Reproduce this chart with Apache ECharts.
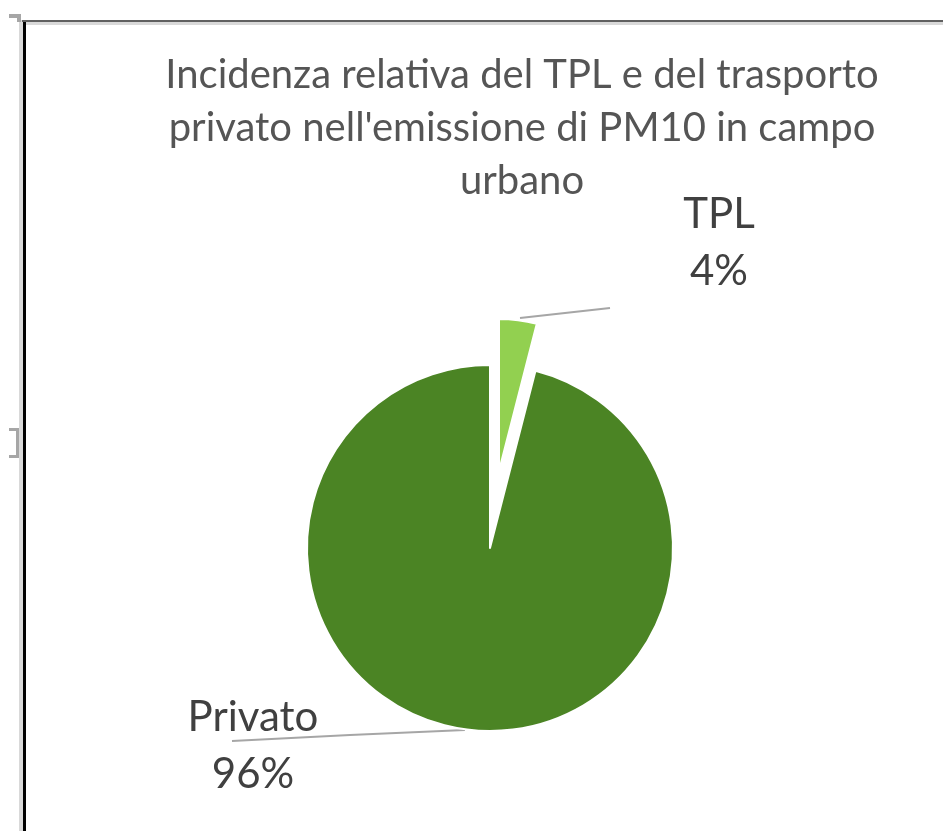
<!DOCTYPE html>
<html>
<head>
	<meta charset="utf-8">
	<title>PM10</title>
	<script src="https://cdn.jsdelivr.net/npm/echarts@6/dist/echarts.min.js"></script>
	<style>
		html,body{margin:0;padding:0;background:#fff;}
		#chart{width:943px;height:831px;}
	</style>
</head>
<body>
	<div id="chart"></div>
<script type="text/javascript">
	var categories = ['TPL', 'Privato'];
	var values = [4, 96];
	var colors = ['#92d050', '#4b8424'];
	var titleText = 'Incidenza relativa del TPL e del trasporto\nprivato nell\'emissione di PM10 in campo\nurbano';

	// label spots and leader lines, by category
	var labelPos = {
		'TPL': {x: 719, y: 243, line: [[520, 318], [565, 313], [610, 308]]},
		'Privato': {x: 253, y: 746, line: [[465, 730], [350, 735], [232, 741]]}
	};

	function buildData(visibleIndex){
		var out = [];
		for(var i=0;i<categories.length;i++){
			var item = {name: categories[i], value: values[i]};
			if(i == visibleIndex){
				item.itemStyle = {color: colors[i], borderColor: '#fff', borderWidth: 2};
			}else{
				item.itemStyle = {color: 'transparent', borderWidth: 0};
				item.label = {show: false};
				item.labelLine = {show: false};
			}
			out.push(item);
		}
		return out;
	}

	function placeLabel(params){
		var p = labelPos[categories[params.dataIndex]];
		return {
			x: p.x,
			y: p.y,
			align: 'center',
			verticalAlign: 'middle',
			labelLinePoints: p.line
		};
	}

	var labelStyle = {
		show: true,
		formatter: '{b}\n{d}%',
		fontFamily: 'Lato',
		fontSize: 42,
		lineHeight: 57,
		color: '#404040',
		align: 'center'
	};

	var chart = echarts.init(document.getElementById('chart'));
	var option = {
		animation: false,
		title: {
			text: titleText,
			left: 517,
			top: 44,
			textAlign: 'center',
			textStyle: {
				fontFamily: 'Lato',
				fontSize: 40,
				fontWeight: 'normal',
				lineHeight: 53,
				color: '#555555'
			}
		},
		graphic: [
			{type: 'rect', shape: {x: 19, y: 20, width: 4, height: 811}, style: {fill: '#d9d9d9'}, silent: true},
			{type: 'rect', shape: {x: 23, y: 22, width: 920, height: 3}, style: {fill: '#d9d9d9'}, silent: true},
			{type: 'rect', shape: {x: 22, y: 20, width: 921, height: 2}, style: {fill: '#606060'}, silent: true},
			{type: 'rect', shape: {x: 23, y: 22, width: 3, height: 809}, style: {fill: '#000'}, silent: true},
			{type: 'rect', shape: {x: 9, y: 14, width: 10, height: 4}, style: {fill: '#a6a6a6'}, silent: true},
			{type: 'rect', shape: {x: 17, y: 14, width: 4, height: 8}, style: {fill: '#a6a6a6'}, silent: true},
			{type: 'rect', shape: {x: 9, y: 428, width: 9, height: 3}, style: {fill: '#a6a6a6'}, silent: true},
			{type: 'rect', shape: {x: 16, y: 428, width: 3, height: 30}, style: {fill: '#a6a6a6'}, silent: true},
			{type: 'rect', shape: {x: 9, y: 455, width: 9, height: 3}, style: {fill: '#a6a6a6'}, silent: true}
		],
		series: [
			{
				name: 'Privato',
				type: 'pie',
				center: [490, 548],
				radius: 183,
				startAngle: 90,
				clockwise: true,
				silent: true,
				label: labelStyle,
				labelLine: {show: true, lineStyle: {color: '#a6a6a6', width: 2}},
				labelLayout: placeLabel,
				data: buildData(1)
			},
			{
				name: 'TPL',
				type: 'pie',
				center: [499, 471],
				radius: 152,
				startAngle: 90,
				clockwise: true,
				silent: true,
				label: labelStyle,
				labelLine: {show: true, lineStyle: {color: '#a6a6a6', width: 2}},
				labelLayout: placeLabel,
				data: buildData(0)
			}
		]
	};
	chart.setOption(option);
</script>
</body>
</html>
